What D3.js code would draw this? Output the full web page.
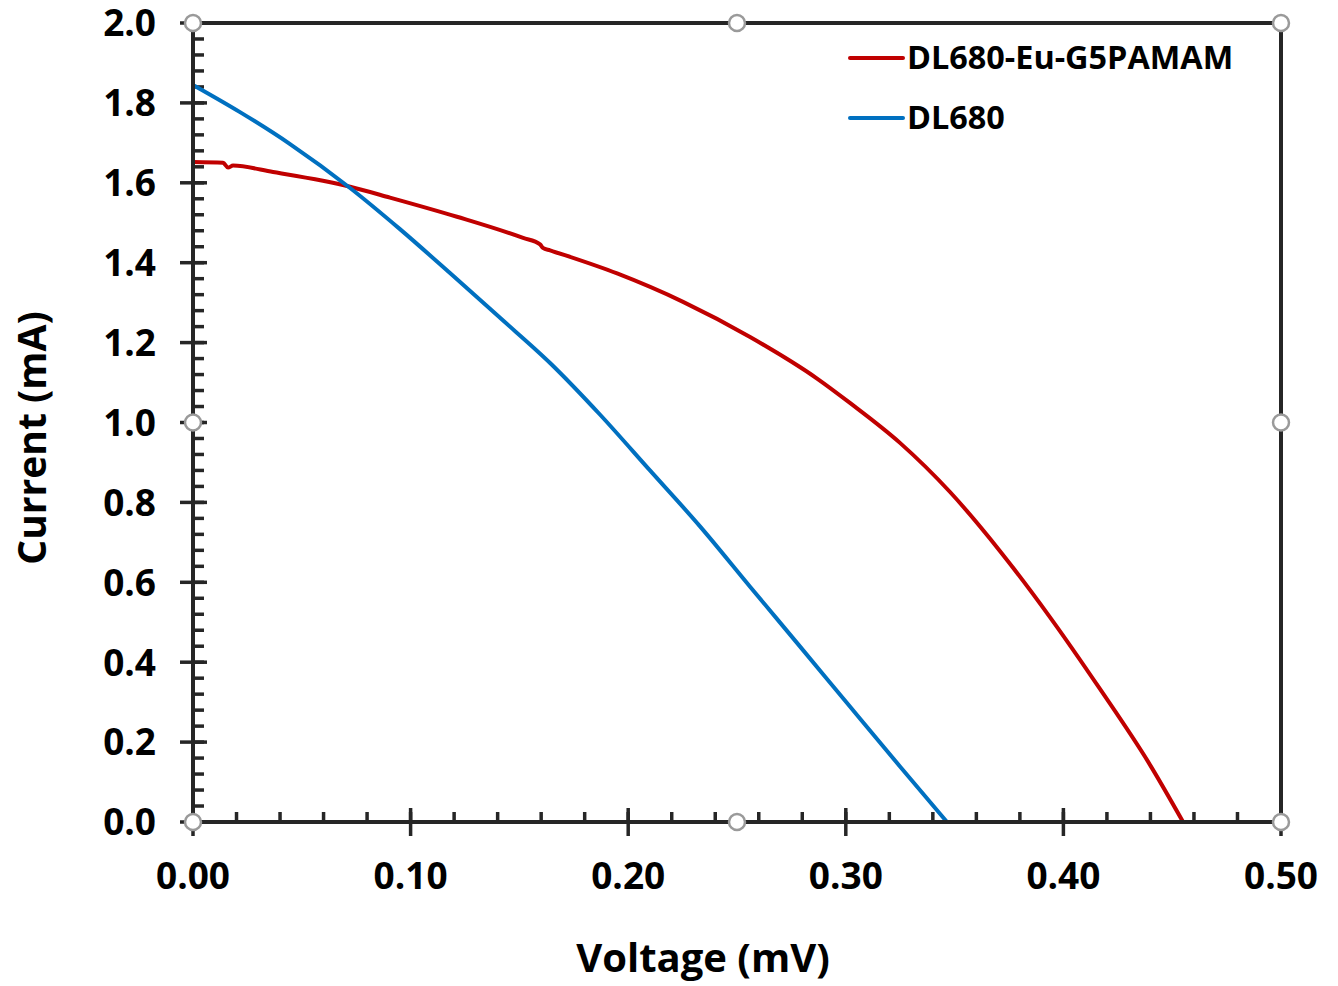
<!DOCTYPE html>
<html>
<head>
<meta charset="utf-8">
<script src="https://cdn.jsdelivr.net/npm/d3@7"></script>
<style>
  body { margin: 0; background: #fff; }
  svg { display: block; }
  text { font-family: 'Open Sans', sans-serif; font-weight: bold; fill: #000; }
</style>
</head>
<body>
<svg width="1338" height="986"></svg>
<script>
// values
var xTicks = [0, 0.1, 0.2, 0.3, 0.4, 0.5]
var yTicks = [0, 0.2, 0.4, 0.6, 0.8, 1.0, 1.2, 1.4, 1.6, 1.8, 2.0]

var redVoltage = [0, 0.0138, 0.0161, 0.0184, 0.0368, 0.0597, 0.0722, 0.0905, 0.1213, 0.1517,
  0.1595, 0.1608, 0.1641, 0.1949, 0.2252, 0.2560, 0.2868, 0.3019, 0.3249, 0.3479, 0.3709,
  0.3938, 0.4168, 0.4398, 0.4550]
var redCurrent = [1.652, 1.650, 1.638, 1.643, 1.627, 1.605, 1.590, 1.563, 1.515, 1.462,
  1.446, 1.437, 1.431, 1.373, 1.302, 1.214, 1.110, 1.049, 0.949, 0.826, 0.678,
  0.513, 0.333, 0.143, 0]

var blueVoltage = [0, 0.0216, 0.0446, 0.0722, 0.0951, 0.1181, 0.1411, 0.1641, 0.1870, 0.2100,
  0.2330, 0.2560, 0.2790, 0.3019, 0.3249, 0.3465]
var blueCurrent = [1.845, 1.777, 1.697, 1.587, 1.484, 1.374, 1.262, 1.149, 1.020, 0.880,
  0.740, 0.589, 0.439, 0.289, 0.139, 0]

var seriesNames = ['DL680-Eu-G5PAMAM', 'DL680']
var seriesColors = ['#c00000', '#0070c0']

;(function (d3) {
  var svg = d3.select('svg')

  var left = 193, right = 1281, top = 23, bottom = 822

  var x = d3.scaleLinear().domain([0, 0.5]).range([left, right])
  var y = d3.scaleLinear().domain([0, 2]).range([bottom, top])

  var axisColor = '#262626'

  // minor ticks, inside the plot
  var xMinor = d3.range(0, 0.5001, 0.02)
  var yMinor = d3.range(0, 2.0001, 0.04)

  svg.append('g')
    .selectAll('line')
    .data(xMinor)
    .join('line')
    .attr('x1', d => x(d)).attr('x2', d => x(d))
    .attr('y1', bottom).attr('y2', bottom - 10)
    .style('stroke', axisColor)
    .style('stroke-width', 3.5)

  svg.append('g')
    .selectAll('line')
    .data(yMinor)
    .join('line')
    .attr('y1', d => y(d)).attr('y2', d => y(d))
    .attr('x1', left).attr('x2', left + 11)
    .style('stroke', axisColor)
    .style('stroke-width', 3.5)

  // major ticks cross the axis line
  svg.append('g')
    .selectAll('line')
    .data(xTicks)
    .join('line')
    .attr('x1', d => x(d)).attr('x2', d => x(d))
    .attr('y1', bottom - 14).attr('y2', bottom + 14)
    .style('stroke', axisColor)
    .style('stroke-width', 3.5)

  svg.append('g')
    .selectAll('line')
    .data(yTicks)
    .join('line')
    .attr('y1', d => y(d)).attr('y2', d => y(d))
    .attr('x1', left - 13).attr('x2', left + 14)
    .style('stroke', axisColor)
    .style('stroke-width', 3.5)

  // tick labels
  svg.append('g')
    .selectAll('text')
    .data(xTicks)
    .join('text')
    .attr('x', d => x(d))
    .attr('y', 889)
    .style('text-anchor', 'middle')
    .style('font-size', '37px')
    .text(d => d3.format('.2f')(d))

  svg.append('g')
    .selectAll('text')
    .data(yTicks)
    .join('text')
    .attr('x', 156)
    .attr('y', d => y(d))
    .attr('dy', '0.36em')
    .style('text-anchor', 'end')
    .style('font-size', '37px')
    .text(d => d3.format('.1f')(d))

  // data lines
  var ln = d3.line()
    .x(d => x(d[0]))
    .y(d => y(d[1]))
    .curve(d3.curveMonotoneX)

  var redData = redVoltage.map((v, i) => [v, redCurrent[i]])
  var blueData = blueVoltage.map((v, i) => [v, blueCurrent[i]])

  svg.selectAll('path.series')
    .data([redData, blueData])
    .join('path')
    .attr('class', 'series')
    .attr('d', ln)
    .style('fill', 'none')
    .style('stroke', (d, i) => seriesColors[i])
    .style('stroke-width', 4)
    .style('stroke-linejoin', 'round')

  // plot border
  svg.append('rect')
    .attr('x', left).attr('y', top)
    .attr('width', right - left).attr('height', bottom - top)
    .style('fill', 'none')
    .style('stroke', axisColor)
    .style('stroke-width', 4)

  // selection handles
  var midX = (left + right) / 2, midY = (top + bottom) / 2
  var handles = [[left, top], [midX, top], [right, top], [left, midY],
    [right, midY], [left, bottom], [midX, bottom], [right, bottom]]

  svg.append('g')
    .selectAll('circle')
    .data(handles)
    .join('circle')
    .attr('cx', d => d[0]).attr('cy', d => d[1])
    .attr('r', 8)
    .style('fill', '#fff')
    .style('stroke', '#9a9a9a')
    .style('stroke-width', 2.5)

  // legend
  var legend = svg.append('g')
    .selectAll('g')
    .data(seriesNames)
    .join('g')
    .attr('transform', (d, i) => `translate(850, ${58 + i * 60})`)

  legend.append('line')
    .attr('x1', 0).attr('x2', 53)
    .style('stroke', (d, i) => seriesColors[i])
    .style('stroke-width', 4)
    .style('stroke-linecap', 'round')

  legend.append('text')
    .attr('x', 57)
    .attr('dy', '0.35em')
    .style('font-size', '32.4px')
    .text(d => d)

  // axis titles
  svg.append('text')
    .attr('x', 703)
    .attr('y', 972)
    .style('text-anchor', 'middle')
    .style('font-size', '40px')
    .text('Voltage (mV)')

  svg.append('text')
    .attr('transform', 'translate(46, 438) rotate(-90)')
    .style('text-anchor', 'middle')
    .style('font-size', '39px')
    .text('Current (mA)')
})(window.d3)
</script>
</body>
</html>
